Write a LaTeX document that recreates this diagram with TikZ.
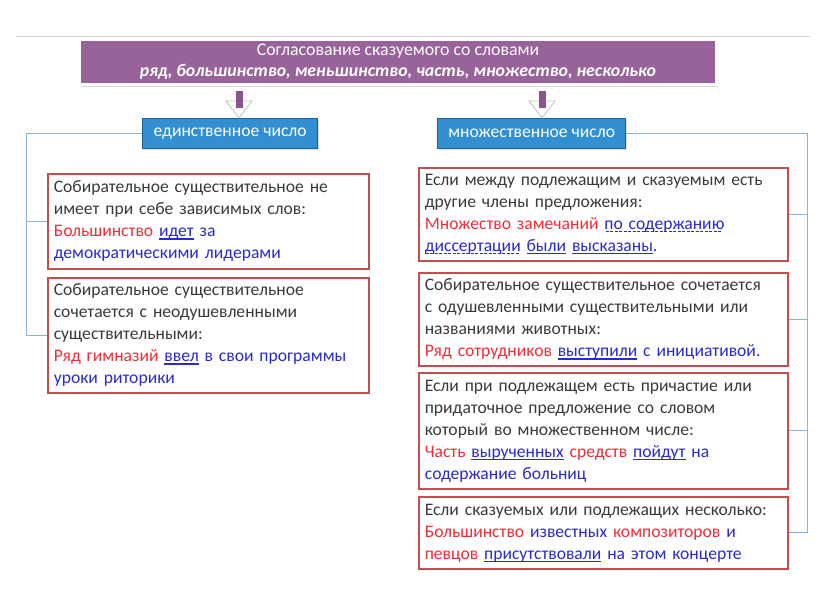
\documentclass[tikz,border=0pt]{standalone}
\usepackage{fontspec}
\setmainfont{Carlito}
\usetikzlibrary{shadows}
\definecolor{boxred}{HTML}{C0504D}
\definecolor{tgray}{HTML}{3A3A3A}
\definecolor{tred}{HTML}{EE2E3A}
\definecolor{tblue}{HTML}{2B2BC8}
\definecolor{tpurple}{HTML}{98629A}
\definecolor{apurple}{HTML}{8A5490}
\definecolor{bfill}{HTML}{3290D2}
\definecolor{bborder}{HTML}{1F5E96}
\definecolor{conn}{HTML}{8EAEDC}
\newsavebox\myubox
\newcommand{\R}[1]{\textcolor{tred}{#1}}
\newcommand{\B}[1]{\textcolor{tblue}{#1}}
\newcommand{\BU}[1]{\textcolor{tblue}{\sbox\myubox{#1}\rlap{\usebox\myubox}\vrule height -1.6pt depth 2.7pt width \wd\myubox}}
\newcommand{\BD}[1]{\textcolor{tblue}{\sbox\myubox{#1}\rlap{\usebox\myubox}\leaders\hbox to 4.5pt{\hfil\vrule height -1.6pt depth 2.7pt width 3pt\hfil}\hskip\wd\myubox}}
\tikzset{
  rbox/.style={draw=boxred, line width=1.6pt, fill=white, anchor=north west,
    inner xsep=6pt, inner ysep=2pt, align=left, text=tgray,
    font=\fontsize{17.6}{22}\selectfont,
    drop shadow={opacity=0.2, shadow xshift=1.5pt, shadow yshift=-1.5pt}},
  bbox/.style={draw=bborder, line width=1.4pt, fill=bfill, anchor=north west,
    text=white, font=\fontsize{17.6}{20}\selectfont, inner sep=0pt,
    drop shadow={opacity=0.25, shadow xshift=1.5pt, shadow yshift=-1.5pt}},
  connline/.style={draw=conn, line width=1pt},
  shaft/.style={draw=apurple, line width=7pt},
  ahead/.style={fill=white, draw=black!25, line width=0.8pt}
}
\begin{document}
\begin{tikzpicture}[x=1pt,y=-1pt]
\useasboundingbox (0,0) rectangle (816,613);
\fill[white] (0,0) rectangle (816,613);
% top faint line
\draw[black!18, line width=1pt] (16,36) -- (810,36);
% title
\node[fill=tpurple, draw=white, line width=3pt, anchor=north west,
  minimum width=637pt, minimum height=45pt, inner sep=0pt, text=white,
  align=center, font=\fontsize{17.8}{21}\selectfont,
  drop shadow={opacity=0.3, shadow xshift=1.5pt, shadow yshift=-2pt}] (title) at (78,38)
  {Согласование сказуемого со словами\\
   \textbf{\textit{ряд, большинство, меньшинство, часть, множество, несколько}}};
% blue boxes
\node[bbox, minimum width=175pt, minimum height=30pt] (sing) at (142,118) {единственное число};
\node[bbox, minimum width=188pt, minimum height=30pt] (plur) at (437,118) {множественное число};
% arrows
\coordinate (a1s) at (239,91);
\coordinate (a1e) at (239,101);
\coordinate (a2s) at (542,91);
\coordinate (a2e) at (542,101);
\draw[ahead] ([xshift=-13pt]a1e) -- ([xshift=13pt]a1e) -- ([yshift=-17pt]a1e) -- cycle;
\draw[ahead] ([xshift=-13pt]a2e) -- ([xshift=13pt]a2e) -- ([yshift=-17pt]a2e) -- cycle;
\draw[shaft] (a1s) -- ([yshift=-7pt]a1e);
\draw[shaft] (a2s) -- ([yshift=-7pt]a2e);
% left boxes
\node[rbox, minimum width=321pt, minimum height=95pt, text width=309pt] (l1) at (47,173)
{Собирательное существительное не\\
имеет при себе зависимых слов:\\
\R{Большинство} \BU{идет} \B{за}\\
\B{демократическими лидерами}};
\node[rbox, minimum width=321pt, minimum height=115pt, text width=309pt] (l2) at (47,277)
{Собирательное существительное\\
сочетается с неодушевленными\\
существительными:\\
\R{Ряд гимназий} \BU{ввел} \B{в свои программы}\\
\B{уроки риторики}};
% right boxes
\node[rbox, minimum width=369pt, minimum height=93pt, text width=357pt] (r1) at (418,167)
{Если между подлежащим и сказуемым есть\\
другие члены предложения:\\
\R{Множество замечаний} \BD{по содержанию}\\
\BD{диссертации} \BU{были} \BU{высказаны}\B{.}};
\node[rbox, minimum width=369pt, minimum height=93pt, text width=357pt] (r2) at (418,272)
{Собирательное существительное сочетается\\
с одушевленными существительными или\\
названиями животных:\\
\R{Ряд сотрудников} \BU{выступили} \B{с инициативой.}};
\node[rbox, minimum width=369pt, minimum height=116pt, text width=357pt] (r3) at (418,372)
{Если при подлежащем есть причастие или\\
придаточное предложение со словом\\
который во множественном числе:\\
\R{Часть} \BU{вырученных} \R{средств} \BU{пойдут} \B{на}\\
\B{содержание больниц}};
\node[rbox, minimum width=369pt, minimum height=72pt, text width=357pt] (r4) at (418,496)
{Если сказуемых или подлежащих несколько:\\
\R{Большинство} \B{известных} \R{композиторов} \B{и}\\
\R{певцов} \BU{присутствовали} \B{на этом концерте}};
% connectors
\coordinate (lc) at (26,0);
\coordinate (rc) at (807,0);
\draw[connline] (sing.west) -| (lc |- l2.west) -- (l2.west);
\draw[connline] (lc |- l1.west) -- (l1.west);
\draw[connline] (plur.east) -| (rc |- r4.east) -- (r4.east);
\draw[connline] (rc |- r1.east) -- (r1.east);
\draw[connline] (rc |- r2.east) -- (r2.east);
\draw[connline] (rc |- r3.east) -- (r3.east);
\end{tikzpicture}
\end{document}
